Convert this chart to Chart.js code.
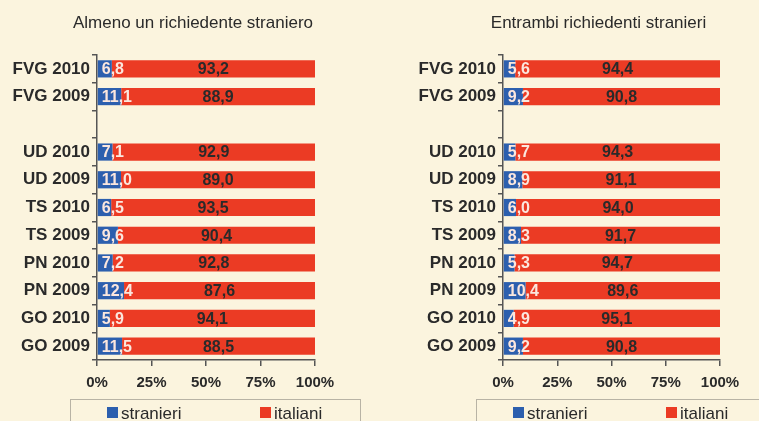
<!DOCTYPE html>
<html>
<head>
<meta charset="utf-8">
<script src="https://cdn.jsdelivr.net/npm/chart.js@4/dist/chart.umd.min.js"></script>
<style>
  html, body { margin: 0; padding: 0; background: #fbf4de; overflow: hidden; }
  .panel { position: absolute; top: 0; height: 421px; }
  #panelLeft { left: 0; width: 380px; }
  #panelRight { left: 380px; width: 379px; }
</style>
</head>
<body>
<div class="panel" id="panelLeft"><canvas id="chartLeft"></canvas></div>
<div class="panel" id="panelRight"><canvas id="chartRight"></canvas></div>
<script>
// the empty label leaves a gap between the regional total and the provinces
const categories = ['FVG 2010', 'FVG 2009', '', 'UD 2010', 'UD 2009', 'TS 2010', 'TS 2009', 'PN 2010', 'PN 2009', 'GO 2010', 'GO 2009']

const almenoStranieri = [6.8, 11.1, null, 7.1, 11.0, 6.5, 9.6, 7.2, 12.4, 5.9, 11.5]
const almenoItaliani = [93.2, 88.9, null, 92.9, 89.0, 93.5, 90.4, 92.8, 87.6, 94.1, 88.5]

const entrambiStranieri = [5.6, 9.2, null, 5.7, 8.9, 6.0, 8.3, 5.3, 10.4, 4.9, 9.2]
const entrambiItaliani = [94.4, 90.8, null, 94.3, 91.1, 94.0, 91.7, 94.7, 89.6, 95.1, 90.8]

const percentTicks = ['0%', '25%', '50%', '75%', '100%']

const FONT = "'Liberation Sans', Arial, sans-serif"
const BLUE = '#2c5fae'
const RED = '#eb3b24'
const INK = '#2a2a2a'
const AXIS = '#555555'

const fmt = v => v.toFixed(1).replace('.', ',')

// value labels centred in each segment; the small blue ones are kept off the axis
const barLabels = {
  id: 'barLabels',
  afterDatasetsDraw(chart) {
    const ctx = chart.ctx
    ctx.save()
    ctx.font = `bold 16px ${FONT}`
    ctx.textAlign = 'center'
    ctx.textBaseline = 'middle'
    chart.data.datasets.forEach((ds, i) => {
      chart.getDatasetMeta(i).data.forEach((bar, j) => {
        const v = ds.data[j]
        if (v == null) return
        const { x, y, base } = bar.getProps(['x', 'y', 'base'], true)
        const text = fmt(v)
        let cx = (x + base) / 2
        if (i === 0) {
          const w = ctx.measureText(text).width
          cx = Math.max(cx, base + 4 + w / 2)
        }
        ctx.fillStyle = ds.labelColor
        ctx.fillText(text, cx, y + 1)
      })
    })
    ctx.restore()
  }
}

// panel title above the bars and the boxed legend under the axis
const panelDecor = {
  id: 'panelDecor',
  afterDraw(chart, args, opts) {
    const { ctx, chartArea: a } = chart
    ctx.save()
    ctx.fillStyle = INK
    ctx.font = `17px ${FONT}`
    ctx.textAlign = 'center'
    ctx.textBaseline = 'middle'
    ctx.fillText(opts.title, (a.left + a.right) / 2 - 13, 23)

    const top = a.bottom + 39
    ctx.strokeStyle = '#b8b3a5'
    ctx.lineWidth = 1
    ctx.strokeRect(Math.round(a.left - 27) + 0.5, top + 0.5, a.right - a.left + 72, 40)

    const offsets = [10, 163]
    ctx.textAlign = 'left'
    ctx.font = `17px ${FONT}`
    chart.data.datasets.forEach((ds, i) => {
      const x = a.left + offsets[i]
      ctx.fillStyle = ds.backgroundColor
      ctx.fillRect(x, top + 8, 11, 11)
      ctx.fillStyle = INK
      ctx.fillText(ds.label, x + 14, top + 15)
    })
    ctx.restore()
  }
}

function makeChart(id, title, stranieri, italiani, axisWidth, rightPad) {
  return new Chart(document.getElementById(id), {
    type: 'bar',
    data: {
      labels: categories,
      datasets: [
        { label: 'stranieri', data: stranieri, backgroundColor: BLUE, labelColor: '#fbe7de' },
        { label: 'italiani', data: italiani, backgroundColor: RED, labelColor: INK }
      ]
    },
    options: {
      indexAxis: 'y',
      responsive: true,
      maintainAspectRatio: false,
      animation: false,
      layout: { padding: { top: 55, right: rightPad, bottom: 31, left: 0 } },
      datasets: { bar: { barPercentage: 0.62, categoryPercentage: 1 } },
      plugins: {
        legend: { display: false },
        tooltip: { enabled: false },
        panelDecor: { title }
      },
      scales: {
        x: {
          stacked: true,
          min: 0,
          max: 100,
          ticks: {
            stepSize: 25,
            callback: (v, i) => percentTicks[i],
            color: INK,
            padding: 8,
            maxRotation: 0,
            font: { family: FONT, size: 15, weight: 'bold' }
          },
          grid: { drawOnChartArea: false, tickLength: 6, color: AXIS, lineWidth: 1.5 },
          border: { color: AXIS, width: 1.5 },
          afterFit: s => { s.height = 30 }
        },
        y: {
          stacked: true,
          ticks: {
            color: INK,
            padding: 2,
            font: { family: FONT, size: 17, weight: 'bold' }
          },
          grid: { drawOnChartArea: false, tickLength: 5, color: AXIS, lineWidth: 1.5 },
          border: { color: AXIS, width: 1.5 },
          afterFit: s => { s.width = axisWidth }
        }
      }
    },
    plugins: [barLabels, panelDecor]
  })
}

makeChart('chartLeft', 'Almeno un richiedente straniero', almenoStranieri, almenoItaliani, 97, 65)
makeChart('chartRight', 'Entrambi richiedenti stranieri', entrambiStranieri, entrambiItaliani, 123, 39)
</script>
</body>
</html>
